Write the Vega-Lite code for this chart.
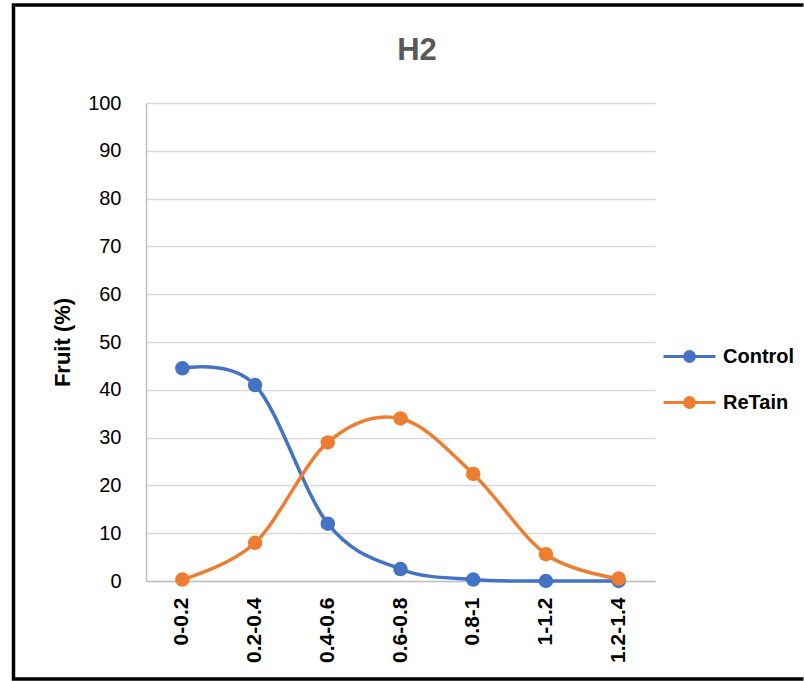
{
  "$schema": "https://vega.github.io/schema/vega-lite/v6.json",
  "autosize": "none",
  "width": 790,
  "height": 674,
  "padding": {"left": 13.5, "top": 5, "right": 0, "bottom": 2},
  "background": "white",
  "title": {
    "text": "H2",
    "anchor": "middle",
    "frame": "group",
    "font": "Liberation Sans",
    "fontSize": 31,
    "fontWeight": "bold",
    "color": "#595959",
    "offset": 0,
    "dx": 8.5,
    "dy": 62
  },
  "data": {
    "values": [
      {"range": "0-0.2", "series": "Control", "fruit": 44.5},
      {"range": "0.2-0.4", "series": "Control", "fruit": 41},
      {"range": "0.4-0.6", "series": "Control", "fruit": 12},
      {"range": "0.6-0.8", "series": "Control", "fruit": 2.5},
      {"range": "0.8-1", "series": "Control", "fruit": 0.3},
      {"range": "1-1.2", "series": "Control", "fruit": 0},
      {"range": "1.2-1.4", "series": "Control", "fruit": 0},
      {"range": "0-0.2", "series": "ReTain", "fruit": 0.3},
      {"range": "0.2-0.4", "series": "ReTain", "fruit": 8},
      {"range": "0.4-0.6", "series": "ReTain", "fruit": 29},
      {"range": "0.6-0.8", "series": "ReTain", "fruit": 34},
      {"range": "0.8-1", "series": "ReTain", "fruit": 22.4},
      {"range": "1-1.2", "series": "ReTain", "fruit": 5.6},
      {"range": "1.2-1.4", "series": "ReTain", "fruit": 0.5}
    ]
  },
  "encoding": {
    "x": {
      "field": "range",
      "type": "ordinal",
      "sort": null,
      "scale": {"type": "band", "range": [132.5, 641.5], "paddingInner": 0, "paddingOuter": 0},
      "axis": {
        "title": null,
        "offset": -98,
        "labelAngle": -90,
        "labelFont": "Liberation Sans",
        "labelFontSize": 21,
        "labelFontWeight": "bold",
        "labelColor": "#000000",
        "labelPadding": 16,
        "ticks": false,
        "domainColor": "#bfbfbf",
        "domainWidth": 1.5,
        "grid": false
      }
    },
    "y": {
      "field": "fruit",
      "type": "quantitative",
      "scale": {"domain": [0, 100], "range": [576, 98], "nice": false},
      "axis": {
        "title": "Fruit (%)",
        "titleFont": "Liberation Sans",
        "titleFontSize": 22,
        "titleFontWeight": "bold",
        "titleColor": "#000000",
        "titlePadding": 13,
        "offset": -132.5,
        "values": [0, 10, 20, 30, 40, 50, 60, 70, 80, 90, 100],
        "labelFont": "Liberation Sans",
        "labelFontSize": 20,
        "labelColor": "#000000",
        "labelPadding": 25,
        "ticks": false,
        "domainColor": "#bfbfbf",
        "domainWidth": 1.5,
        "grid": true,
        "gridColor": "#d9d9d9",
        "gridWidth": 1.5
      }
    },
    "color": {
      "field": "series",
      "type": "nominal",
      "scale": {"domain": ["Control", "ReTain"], "range": ["#4472C4", "#ED7D31"]},
      "legend": {
        "title": null,
        "orient": "none",
        "legendX": 661.5,
        "legendY": 337,
        "padding": 0,
        "rowPadding": 20,
        "labelFont": "Liberation Sans",
        "labelFontSize": 20,
        "labelFontWeight": "bold",
        "labelColor": "#000000",
        "labelOffset": 19,
        "symbolSize": 676,
        "symbolStrokeWidth": 3,
        "symbolType": "M-2,0H2M0.38,0A0.38,0.38,0,1,1,-0.38,0A0.38,0.38,0,1,1,0.38,0Z",
        "encode": {
          "symbols": {
            "update": {
              "fill": {"scale": "color", "field": "value"},
              "stroke": {"scale": "color", "field": "value"},
              "strokeWidth": {"value": 3},
              "opacity": {"value": 1}
            }
          }
        }
      }
    }
  },
  "layer": [
    {
      "mark": {"type": "line", "interpolate": "cardinal", "strokeWidth": 3.5}
    },
    {
      "mark": {"type": "point", "filled": true, "shape": "circle", "size": 210, "opacity": 1}
    }
  ],
  "config": {
    "view": {"stroke": "#000000", "strokeWidth": 3.5, "strokeDash": [790, 674, 1464]}
  }
}
